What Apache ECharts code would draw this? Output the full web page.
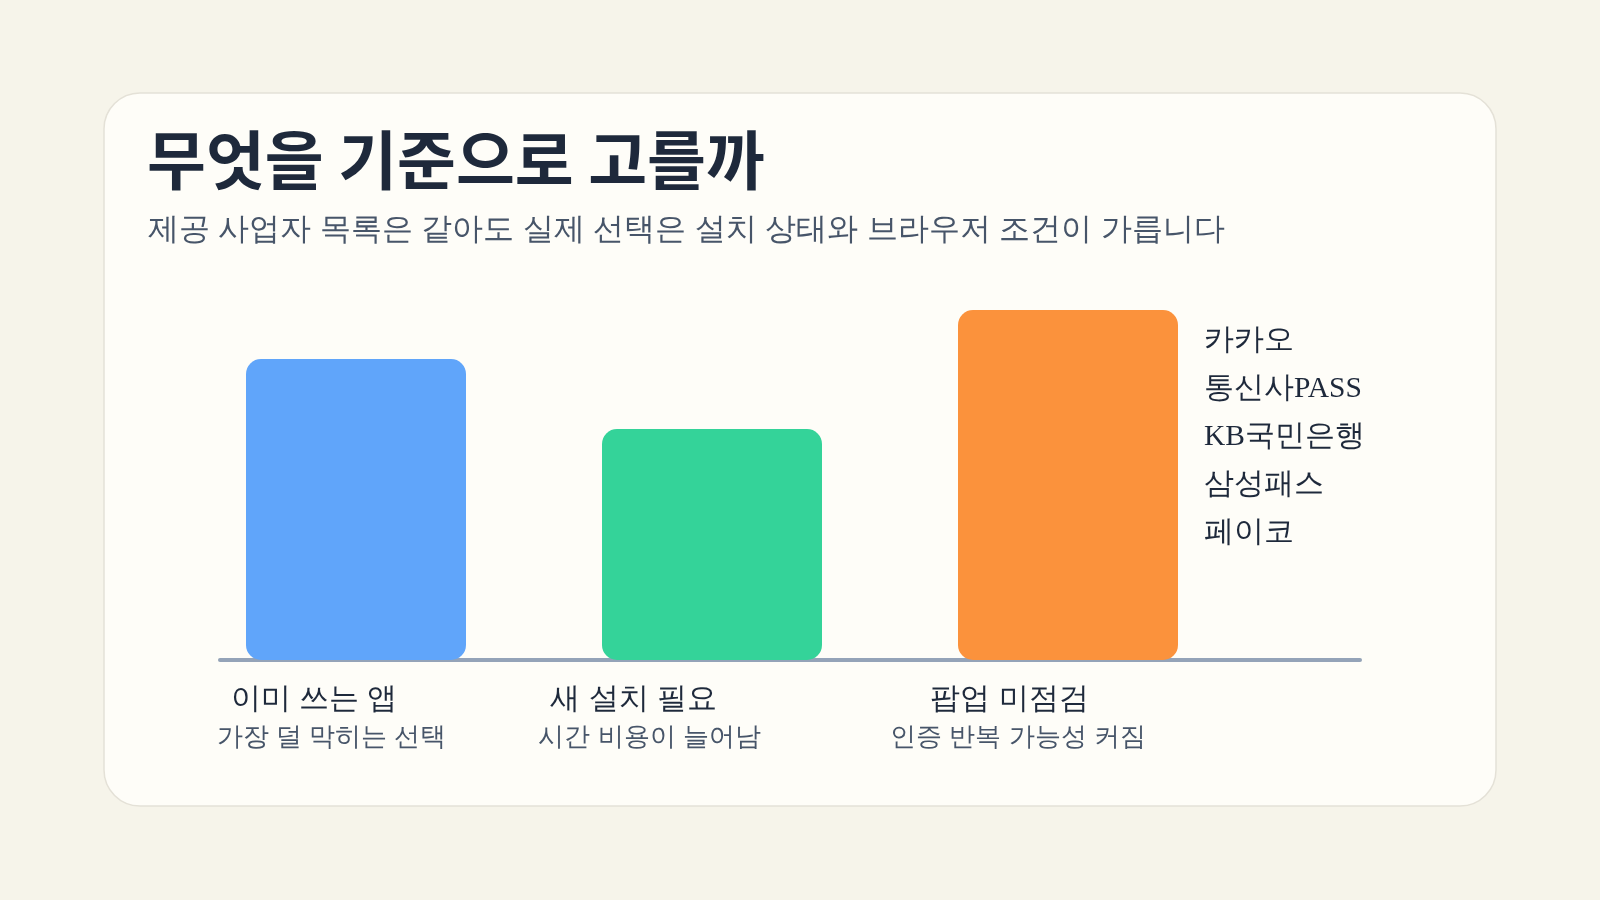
<!DOCTYPE html>
<html>
<head>
<meta charset="utf-8">
<script src="https://cdn.jsdelivr.net/npm/echarts@6/dist/echarts.min.js"></script>
<style>
  html, body { margin: 0; padding: 0; background: #f6f4ea; }
  #chart { width: 1600px; height: 900px; }
</style>
</head>
<body>
<div id="chart"></div>
<script>
// ---- data ----
const titleText = '무엇을 기준으로 고를까';
const subtitleText = '제공 사업자 목록은 같아도 실제 선택은 설치 상태와 브라우저 조건이 가릅니다';
const categories = ['이미 쓰는 앱', '새 설치 필요', '팝업 미점검'];
const subLabels = ['가장 덜 막히는 선택', '시간 비용이 늘어남', '인증 반복 가능성 커짐'];
const values = [86, 66, 100];
const providers = ['카카오', '통신사PASS', 'KB국민은행', '삼성패스', '페이코'];

// ---- styles ----
const barColors = ['#60a5fa', '#34d399', '#fb923c'];
const nameShift = [84, 157, 117];   // right padding to mimic label offsets
const subShift = [49, 125, 100];
const SANS = 'sans-serif';

const rich = {};
categories.forEach((c, i) => {
  rich['n' + i] = { fontFamily: SANS, fontSize: 30, color: '#1e293b', lineHeight: 38, align: 'center', padding: [0, nameShift[i], 0, 0] };
  rich['s' + i] = { fontFamily: SANS, fontSize: 26, color: '#475569', lineHeight: 38, align: 'center', padding: [0, subShift[i], 0, 0] };
});

const chart = echarts.init(document.getElementById('chart'));
chart.setOption({
  backgroundColor: '#f6f4ea',
  animation: false,
  graphic: [{
    type: 'rect', z: -10,
    shape: { x: 104, y: 93, width: 1392, height: 713, r: 36 },
    style: { fill: '#fefdf8', stroke: '#e4e1d7', lineWidth: 1.5 }
  }],
  title: [
    { text: titleText, left: 147, top: 128, padding: 0,
      textStyle: { fontFamily: '"Noto Sans CJK KR", sans-serif', fontSize: 64, fontWeight: 'bold', color: '#1e293b', lineHeight: 64 } },
    { text: subtitleText, left: 148, top: 215, padding: 0,
      textStyle: { fontFamily: SANS, fontSize: 30.5, fontWeight: 'normal', color: '#475569', lineHeight: 31 } }
  ],
  grid: [
    { left: 178, width: 1068, top: 310, bottom: 240 },
    { left: 220, width: 1140, top: 310, bottom: 240 }
  ],
  xAxis: [
    { type: 'category', gridIndex: 0, data: categories, boundaryGap: true,
      axisLine: { show: false }, axisTick: { show: false },
      axisLabel: { interval: 0, margin: 21,
        formatter: (v, i) => '{n' + i + '|' + v + '}\n{s' + i + '|' + subLabels[i] + '}',
        rich: rich } },
    { type: 'value', gridIndex: 1, min: 0, max: 1,
      axisLine: { show: true, lineStyle: { color: '#94a3b8', width: 4 } },
      axisTick: { show: false }, axisLabel: { show: false }, splitLine: { show: false } }
  ],
  yAxis: [
    { type: 'value', gridIndex: 0, min: 0, max: 100, show: false },
    { type: 'value', gridIndex: 1, min: 0, max: 1, show: false }
  ],
  series: [{
    type: 'bar', xAxisIndex: 0, yAxisIndex: 0, barWidth: 220, z: 3,
    data: values.map((v, i) => {
      const item = { value: v, itemStyle: { color: barColors[i], borderRadius: 15 } };
      if (i === values.length - 1) {
        item.label = {
          show: true, position: ['100%', 0], offset: [26, 7],
          align: 'left', verticalAlign: 'top',
          formatter: providers.join('\n'),
          fontFamily: 'serif',
          fontSize: 29.5, lineHeight: 48, color: '#1e293b'
        };
      }
      return item;
    })
  }]
});
</script>
</body>
</html>
